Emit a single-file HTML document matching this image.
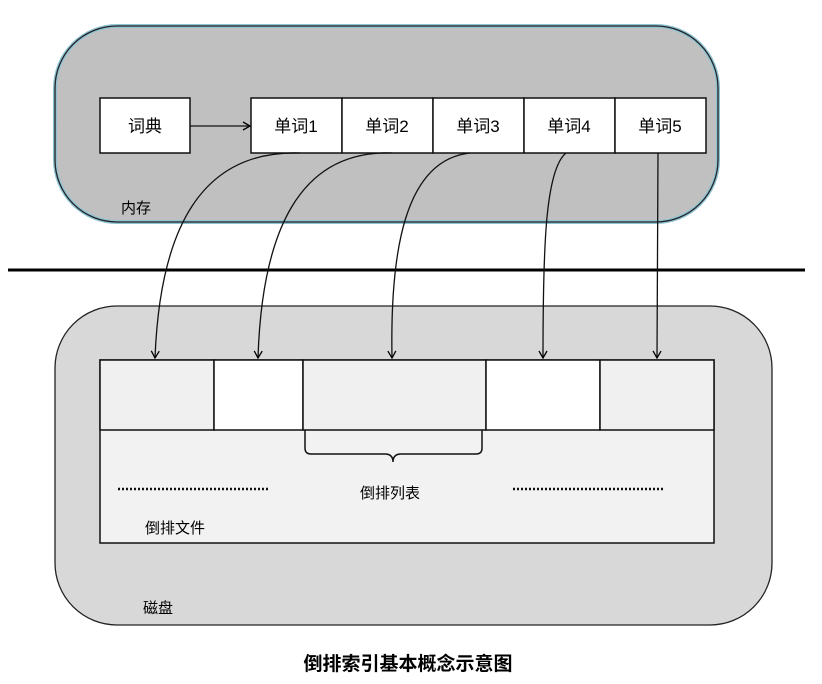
<!DOCTYPE html>
<html><head><meta charset="utf-8"><style>
html,body{margin:0;padding:0;background:#fff;width:822px;height:684px;overflow:hidden}
text{font-family:"Liberation Sans","Noto Sans CJK SC",sans-serif;fill:#000}
</style></head><body>
<svg width="822" height="684" viewBox="0 0 822 684" xmlns="http://www.w3.org/2000/svg">
<defs>
<marker id="a" markerWidth="10" markerHeight="10" refX="8" refY="5" orient="auto" markerUnits="userSpaceOnUse">
<path d="M1,1 L8,5 L1,9" fill="none" stroke="#000" stroke-width="1.3"/></marker>
</defs>
<rect x="55" y="26" width="663" height="196" rx="62" fill="#c0c0c0" stroke="#8fc3d4" stroke-width="4"/>
<rect x="55" y="26" width="663" height="196" rx="62" fill="none" stroke="#222" stroke-width="1.3"/>
<line x1="8" y1="270" x2="805" y2="270" stroke="#000" stroke-width="3"/>
<rect x="55" y="306" width="717" height="319" rx="62" fill="#d8d8d8" stroke="#222" stroke-width="1.3"/>
<g stroke="#111" stroke-width="1.5">
<rect x="100" y="98" width="90" height="55" fill="#fff"/>
<rect x="251" y="98" width="91" height="55" fill="#fff"/>
<rect x="342" y="98" width="91" height="55" fill="#fff"/>
<rect x="433" y="98" width="91" height="55" fill="#fff"/>
<rect x="524" y="98" width="91" height="55" fill="#fff"/>
<rect x="615" y="98" width="91" height="55" fill="#fff"/>
<rect x="100" y="360" width="614" height="183" fill="#f2f2f2"/>
<rect x="100" y="360" width="114" height="70" fill="#f0f0f0"/>
<rect x="214" y="360" width="89" height="70" fill="#fff"/>
<rect x="303" y="360" width="183" height="70" fill="#f0f0f0"/>
<rect x="486" y="360" width="114" height="70" fill="#fff"/>
<rect x="600" y="360" width="114" height="70" fill="#f0f0f0"/>
</g>
<g fill="none" stroke="#111" stroke-width="1.3">
<line x1="190" y1="126" x2="250" y2="126" marker-end="url(#a)"/>
<path d="M300 153 C200 150,160 230,155 358" marker-end="url(#a)"/>
<path d="M392 153 C300 150,262 230,258 358" marker-end="url(#a)"/>
<path d="M470 153 C405 160,390 250,392 358" marker-end="url(#a)"/>
<path d="M566 153 C545 170,543 250,543 358" marker-end="url(#a)"/>
<path d="M658 153 L657 358" marker-end="url(#a)"/>
<path d="M305 430 L305 448 Q305 454 311 454 L385 454 Q393 454 393 462 Q393 454 401 454 L476 454 Q482 454 482 448 L482 430" stroke-width="1.5"/>
<line x1="118" y1="489" x2="268" y2="489" stroke-width="2.5" stroke-dasharray="2,2"/>
<line x1="513" y1="489" x2="664" y2="489" stroke-width="2.5" stroke-dasharray="2,2"/>
</g>
<g font-size="17" text-anchor="middle">
<text x="145" y="132">词典</text>
<text x="296" y="132">单词1</text>
<text x="387" y="132">单词2</text>
<text x="478" y="132">单词3</text>
<text x="569" y="132">单词4</text>
<text x="660" y="132">单词5</text>
</g>
<g font-size="15">
<text x="121" y="213">内存</text>
<text x="360" y="498">倒排列表</text>
<text x="145" y="533">倒排文件</text>
<text x="143" y="613">磁盘</text>
</g>
<text x="408" y="670" font-size="19" font-weight="bold" text-anchor="middle">倒排索引基本概念示意图</text>
</svg>
</body></html>
